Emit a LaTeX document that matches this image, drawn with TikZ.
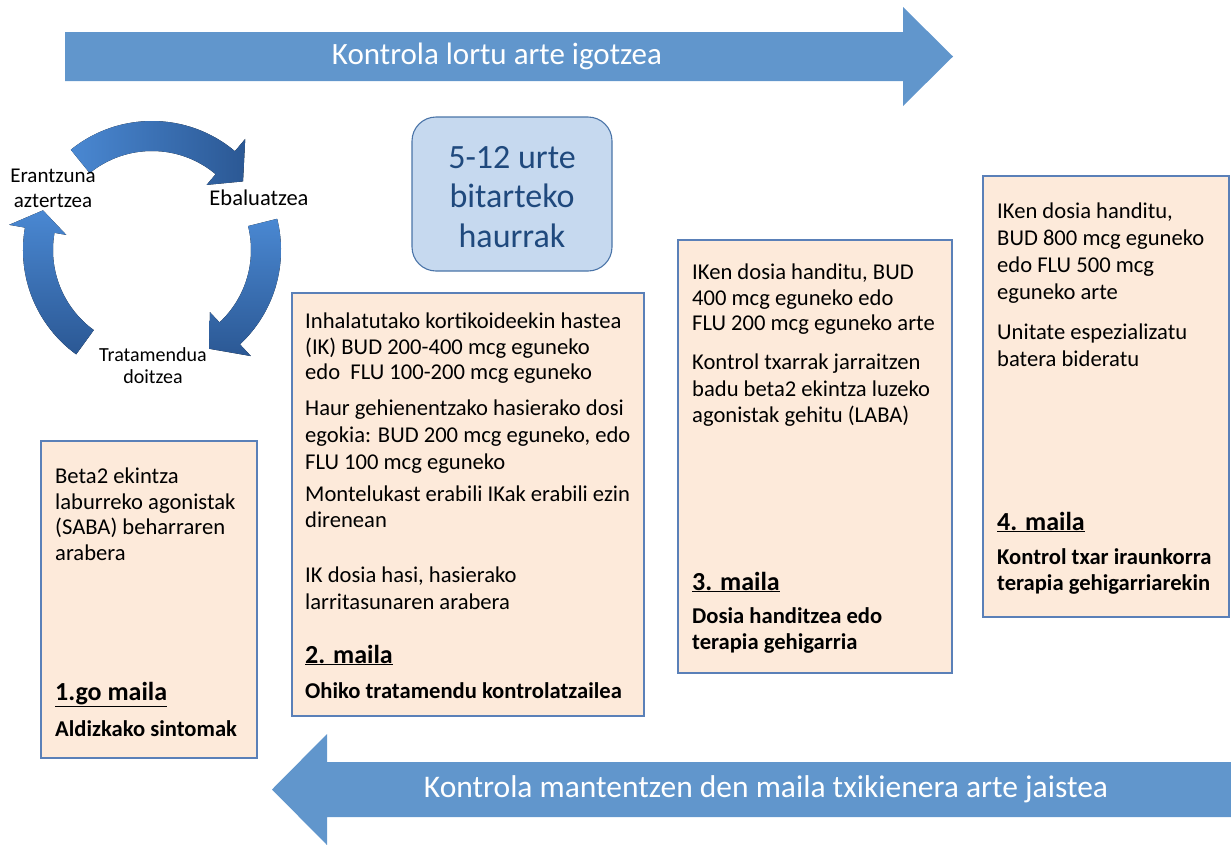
\documentclass[tikz,border=0pt]{standalone}
\usepackage{fontspec}
\setmainfont{Carlito}
\definecolor{arrowblue}{HTML}{6196CC}
\definecolor{boxfill}{HTML}{FDEADA}
\definecolor{boxline}{HTML}{5A80B8}
\definecolor{agefill}{HTML}{C6D9EF}
\definecolor{ageline}{HTML}{4A74A8}
\definecolor{agetext}{HTML}{1F497D}
\definecolor{cyclight}{HTML}{4A88D2}
\definecolor{cycdark}{HTML}{2B5894}
\begin{document}
\begin{tikzpicture}[x=1pt,y=-1pt,
  levelbox/.style={draw=boxline, line width=1.1pt, fill=boxfill},
  bodytext/.style={anchor=north west, inner sep=0pt, align=left, font=\fontsize{22.6}{25.8}\selectfont},
  headtext/.style={anchor=base west, inner sep=0pt, font=\fontsize{26}{30}\selectfont\bfseries},
  subtext/.style={anchor=north west, inner sep=0pt, align=left, font=\fontsize{22.6}{26}\selectfont\bfseries},
  bigarrowtext/.style={text=white, font=\fontsize{31}{36}\selectfont},
  cyclabel/.style={align=center, inner sep=0pt, font=\fontsize{21}{25}\selectfont}
]
\useasboundingbox (0,0) rectangle (1231,844);

% big arrows
\fill[arrowblue] (65,32) -- (903,32) -- (903,7) -- (953,56.5) -- (903,106) -- (903,81) -- (65,81) -- cycle;
\node[bigarrowtext] (uptext) at (497,56.5) {Kontrola lortu arte igotzea};
\fill[arrowblue] (1231,762) -- (327,762) -- (327,734) -- (272,789.5) -- (327,845) -- (327,817) -- (1231,817) -- cycle;
\node[bigarrowtext, font=\fontsize{31.5}{36}\selectfont] (downtext) at (766,789.5) {Kontrola mantentzen den maila txikienera arte jaistea};

% cycle
\begin{scope}[shift={(152,250)}, y=1pt]
  \fill[left color=cyclight, right color=cycdark]
    (129:129pt) arc[start angle=129, end angle=50, radius=129pt] -- (50:145pt) -- (37:114pt) -- (50:85pt) -- (50:99pt)
    arc[start angle=50, end angle=129, radius=99pt] -- cycle;
  \fill[top color=cyclight, bottom color=cycdark]
    (14:129pt) arc[start angle=14, end angle=-47, radius=129pt] -- (-47:145pt) -- (-60:114pt) -- (-47:85pt) -- (-47:99pt)
    arc[start angle=-47, end angle=14, radius=99pt] -- cycle;
  \fill[top color=cyclight, bottom color=cycdark]
    (234:129pt) arc[start angle=234, end angle=170, radius=129pt] -- (170:145pt) -- (160:116pt) -- (170:87pt) -- (170:99pt)
    arc[start angle=170, end angle=234, radius=99pt] -- cycle;
\end{scope}
\node[cyclabel] (eran) at (53,188) {Erantzuna\\aztertzea};
\node[cyclabel, font=\fontsize{22.5}{26}\selectfont] (ebal) at (259,198) {Ebaluatzea};
\node[cyclabel, font=\fontsize{20}{22}\selectfont] (trat) at (153,366) {Tratamendua\\doitzea};

% age box
\draw[ageline, line width=1.1pt, fill=agefill, rounded corners=24pt] (412,117) rectangle (612,271);
\node[align=center, text=agetext, font=\fontsize{34}{39.5}\selectfont] (age) at (512,197) {5-12 urte\\bitarteko\\haurrak};

% level 1
\draw[levelbox] (41,441) rectangle (257,758);
\node[bodytext] (l1a) at (55,465) {\strut Beta2 ekintza\\laburreko agonistak\\(SABA) beharraren\\arabera};
\node[headtext] (l1h) at (55,700) {\underline{1.go maila}};
\node[subtext] (l1s) at (55,718) {\strut Aldizkako sintomak};

% level 2
\draw[levelbox] (292,293) rectangle (644,716);
\node[bodytext] (l2a) at (305,310) {\strut Inhalatutako kortikoideekin hastea\\(IK) BUD 200-400 mcg eguneko\\edo~ FLU 100-200 mcg eguneko};
\node[bodytext, font=\fontsize{22.6}{27}\selectfont] (l2b) at (305,396) {\strut Haur gehienentzako hasierako dosi\\egokia: BUD 200 mcg eguneko, edo\\FLU 100 mcg eguneko};
\node[bodytext] (l2c) at (305,483) {\strut Montelukast erabili IKak erabili ezin\\direnean};
\node[bodytext, font=\fontsize{22.6}{27}\selectfont] (l2d) at (305,563) {\strut IK dosia hasi, hasierako\\larritasunaren arabera};
\node[headtext] (l2h) at (305,663) {\underline{2. maila}};
\node[subtext] (l2s) at (305,680) {\strut Ohiko tratamendu kontrolatzailea};

% level 3
\draw[levelbox] (678,240) rectangle (952,673);
\node[bodytext] (l3a) at (692,261) {\strut IKen dosia handitu, BUD\\400 mcg eguneko edo\\FLU 200 mcg eguneko arte};
\node[bodytext, font=\fontsize{22.6}{26.5}\selectfont] (l3b) at (692,351) {\strut Kontrol txarrak jarraitzen\\badu beta2 ekintza luzeko\\agonistak gehitu (LABA)};
\node[headtext] (l3h) at (692,590) {\underline{3. maila}};
\node[subtext] (l3s) at (692,605) {\strut Dosia handitzea edo\\terapia gehigarria};

% level 4
\draw[levelbox] (983,176) rectangle (1229,617);
\node[bodytext, font=\fontsize{22.6}{27}\selectfont] (l4a) at (997,199) {\strut IKen dosia handitu,\\BUD 800 mcg eguneko\\edo FLU 500 mcg\\eguneko arte};
\node[bodytext, font=\fontsize{22.6}{27}\selectfont] (l4b) at (997,320) {\strut Unitate espezializatu\\batera bideratu};
\node[headtext] (l4h) at (997,530) {\underline{4. maila}};
\node[subtext] (l4s) at (997,546) {\strut Kontrol txar iraunkorra\\terapia gehigarriarekin};
\end{tikzpicture}
\end{document}
